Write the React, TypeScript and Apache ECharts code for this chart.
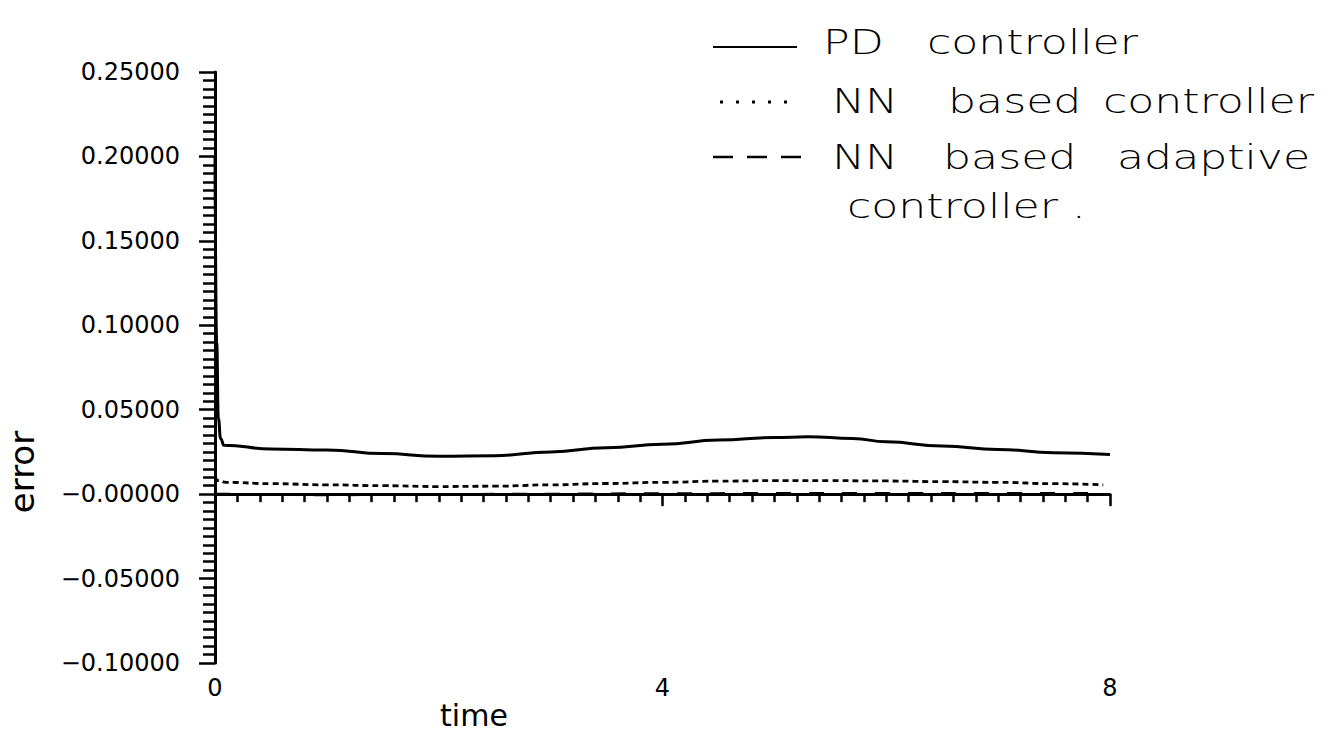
import React, { useEffect, useRef } from "react";
import * as echarts from "echarts";

const xTickLabels = ["0", "4", "8"];
const yTickLabels = ["−0.10000", "−0.05000", "−0.00000", "0.05000", "0.10000", "0.15000", "0.20000", "0.25000"];

const pdTime = [0, 0.015, 0.03, 0.05, 0.08, 0.5, 1.0, 1.5, 2.0, 2.5, 3.0, 3.5, 4.0, 4.5, 5.0, 5.3, 5.7, 6.0, 6.5, 7.0, 7.5, 8.0];
const pdError = [0.2, 0.09, 0.045, 0.033, 0.029, 0.0268, 0.0262, 0.024, 0.0225, 0.0228, 0.025, 0.0275, 0.0295, 0.032, 0.0335, 0.034, 0.033, 0.031, 0.0285, 0.0265, 0.0245, 0.0235];

const nnTime = [0, 0.03, 0.1, 0.5, 1.0, 1.5, 2.0, 2.5, 3.0, 3.5, 4.0, 4.5, 5.0, 5.5, 6.0, 6.5, 7.0, 7.5, 7.94];
const nnError = [0.0105, 0.008, 0.007, 0.0062, 0.0055, 0.005, 0.0045, 0.0047, 0.0055, 0.0063, 0.007, 0.0077, 0.008, 0.008, 0.0078, 0.0074, 0.007, 0.0062, 0.0055];

const adTime = [0, 1, 2, 3, 4, 5, 6, 7, 7.94];
const adError = [0.0, -0.0003, -0.0002, 0.0, 0.0002, 0.0004, 0.0004, 0.0004, 0.0004];

const seriesNames = ["PD controller", "NN based controller", "NN based adaptive controller"];

const Y_MIN = -0.1;
const Y_MAX = 0.25;
const Y_STEP = 0.05;

function zip(t: number[], v: number[]) {
  return t.map((x, i) => [x, v[i]]);
}

export default function App() {
  const ref = useRef<HTMLDivElement>(null);
  useEffect(() => {
    if (!ref.current) return;
    const chart = echarts.init(ref.current, null, { renderer: "svg" });
    const font = "DejaVu Sans";
    const hand = { font: `200 34px "${font}"`, fill: "#000" };
    const word = (text: string, x: number, y: number) => ({
      type: "text",
      x,
      y,
      scaleX: 1.3,
      style: { ...hand, text, verticalAlign: "middle", align: "left" },
    });
    chart.setOption({
      animation: false,
      backgroundColor: "#fff",
      grid: { left: 215, right: 233, top: 72, bottom: 77, outerBoundsMode: "none" },
      xAxis: {
        type: "value",
        min: 0,
        max: 8,
        interval: 4,
        axisLine: { show: true, lineStyle: { color: "#000", width: 3 } },
        axisTick: { show: true, inside: false, length: 12, lineStyle: { color: "#000", width: 2.5 } },
        minorTick: { show: true, splitNumber: 20, length: 8, lineStyle: { color: "#000", width: 2.5 } },
        splitLine: { show: false },
        minorSplitLine: { show: false },
        axisLabel: {
          margin: 13,
          color: "#000",
          fontFamily: font,
          fontSize: 24,
          formatter: (v: number) => xTickLabels[Math.round(v / 4)] ?? "",
        },
      },
      yAxis: {
        type: "value",
        min: Y_MIN,
        max: Y_MAX,
        interval: Y_STEP,
        axisLine: { show: true, lineStyle: { color: "#000", width: 3 } },
        axisTick: { show: true, inside: false, length: 16, lineStyle: { color: "#000", width: 2.5 } },
        minorTick: { show: true, splitNumber: 10, length: 12, lineStyle: { color: "#000", width: 2.5 } },
        splitLine: { show: false },
        minorSplitLine: { show: false },
        axisLabel: {
          margin: 35,
          color: "#000",
          fontFamily: font,
          fontSize: 24,
          formatter: (v: number) => yTickLabels[Math.round((v - Y_MIN) / Y_STEP)] ?? "",
        },
      },
      series: [
        {
          name: seriesNames[0],
          type: "line",
          data: zip(pdTime, pdError),
          showSymbol: false,
          smooth: true,
          smoothMonotone: "x",
          lineStyle: { color: "#000", width: 3, type: "solid" },
        },
        {
          name: seriesNames[1],
          type: "line",
          data: zip(nnTime, nnError),
          showSymbol: false,
          smooth: true,
          smoothMonotone: "x",
          lineStyle: { color: "#000", width: 2.8, type: [6, 4] },
        },
        {
          name: seriesNames[2],
          type: "line",
          data: zip(adTime, adError),
          showSymbol: false,
          smooth: true,
          smoothMonotone: "x",
          lineStyle: { color: "#000", width: 3, type: [15, 18] },
        },
      ],
      graphic: [
        {
          type: "text",
          x: 22,
          y: 472,
          rotation: Math.PI / 2,
          style: { text: "error", font: `34px "${font}"`, fill: "#000", align: "center", verticalAlign: "middle" },
        },
        {
          type: "text",
          x: 474,
          y: 715,
          style: { text: "time", font: `30px "${font}"`, fill: "#000", align: "center", verticalAlign: "middle" },
        },
        { type: "line", shape: { x1: 713, y1: 47, x2: 797, y2: 47 }, style: { stroke: "#000", lineWidth: 2 } },
        { type: "line", shape: { x1: 720, y1: 102, x2: 797, y2: 102 }, style: { stroke: "#000", lineWidth: 3, lineDash: [3, 13] } },
        { type: "line", shape: { x1: 713, y1: 157, x2: 807, y2: 157 }, style: { stroke: "#000", lineWidth: 2.5, lineDash: [20, 14] } },
        word("PD", 823, 42),
        word("controller", 927, 42),
        word("NN", 832, 101),
        word("based", 948, 101),
        word("controller", 1103, 101),
        word("NN", 832, 157),
        word("based", 943, 157),
        word("adaptive", 1117, 157),
        word("controller .", 847, 206),
      ],
    });
    return () => chart.dispose();
  }, []);
  return (
    <div
      ref={ref}
      style={{ position: "fixed", left: 0, top: 0, width: 1343, height: 740, background: "#fff" }}
    />
  );
}
